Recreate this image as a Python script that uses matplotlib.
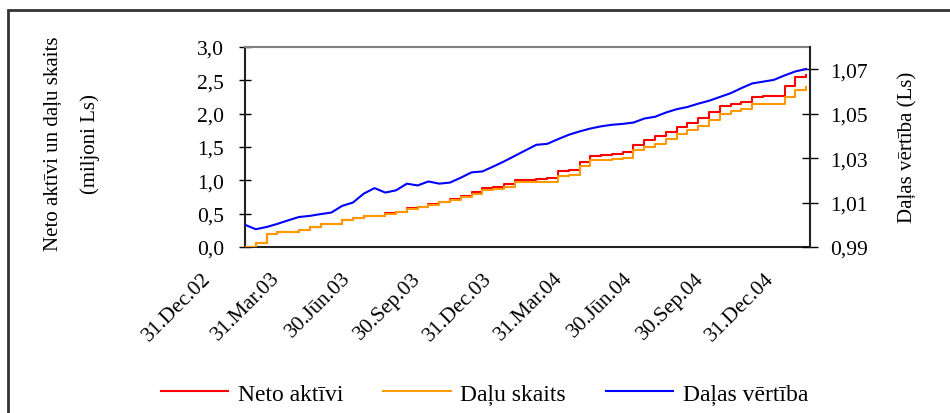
import matplotlib
matplotlib.use("Agg")
import matplotlib.pyplot as plt
import matplotlib.dates as mdates
from matplotlib.transforms import ScaledTranslation
from matplotlib.patches import Rectangle
import numpy as np
import datetime as dt

# ---- data ----
start = dt.date(2002, 12, 31)
dates = [start + dt.timedelta(days=14 * i) for i in range(53)]

neto_aktivi = [0.0, 0.06, 0.20, 0.22, 0.23, 0.26, 0.30, 0.345, 0.345, 0.40,
               0.44, 0.46, 0.47, 0.51, 0.53, 0.58, 0.60, 0.64, 0.68, 0.72,
               0.76, 0.82, 0.88, 0.90, 0.94, 1.01, 1.01, 1.02, 1.03, 1.145,
               1.15, 1.28, 1.36, 1.38, 1.40, 1.42, 1.53, 1.60, 1.66, 1.72,
               1.80, 1.86, 1.93, 2.02, 2.11, 2.15, 2.18, 2.25, 2.27, 2.27,
               2.42, 2.55, 2.58]

dalu_skaits = [0.0, 0.06, 0.20, 0.22, 0.23, 0.26, 0.30, 0.345, 0.345, 0.40,
               0.44, 0.46, 0.47, 0.50, 0.52, 0.57, 0.595, 0.63, 0.67, 0.70,
               0.745, 0.80, 0.86, 0.87, 0.90, 0.98, 0.98, 0.98, 0.98, 1.07,
               1.08, 1.22, 1.30, 1.30, 1.32, 1.34, 1.45, 1.50, 1.55, 1.62,
               1.70, 1.76, 1.82, 1.90, 2.00, 2.04, 2.07, 2.14, 2.15, 2.15,
               2.25, 2.35, 2.40]

dalas_vertiba = [1.000, 0.998, 0.999, 1.0004, 1.002, 1.0035, 1.004, 1.0048,
                 1.0055, 1.0085, 1.010, 1.014, 1.0165, 1.0145, 1.0155, 1.0185,
                 1.0177, 1.0195, 1.0185, 1.019, 1.0212, 1.0236, 1.0240, 1.0262,
                 1.0285, 1.031, 1.0335, 1.036, 1.0364, 1.0385, 1.0405, 1.042,
                 1.0433, 1.0443, 1.045, 1.0454, 1.046, 1.0478, 1.0486, 1.0505,
                 1.052, 1.053, 1.0545, 1.0558, 1.0575, 1.0592, 1.0615, 1.0636,
                 1.0644, 1.0652, 1.0672, 1.069, 1.0701]

tick_dates = [dt.date(2002, 12, 31), dt.date(2003, 3, 31), dt.date(2003, 6, 30),
              dt.date(2003, 9, 30), dt.date(2003, 12, 31), dt.date(2004, 3, 31),
              dt.date(2004, 6, 30), dt.date(2004, 9, 30), dt.date(2004, 12, 31)]
tick_labels = ["31.Dec.02", "31.Mar.03", "30.Jūn.03", "30.Sep.03", "31.Dec.03",
               "31.Mar.04", "30.Jūn.04", "30.Sep.04", "31.Dec.04"]

left_ticks = [0.0, 0.5, 1.0, 1.5, 2.0, 2.5, 3.0]
right_ticks = [0.99, 1.01, 1.03, 1.05, 1.07]

series_names = ["Neto aktīvi", "Daļu skaits", "Daļas vērtība"]

# ---- style ----
plt.rcParams['font.family'] = ['Liberation Serif', 'DejaVu Serif']
RED = "#FF0000"
ORANGE = "#FF9900"
BLUE = "#0000FF"

fig = plt.figure(figsize=(9.5, 4.14), dpi=100)
ax = fig.add_axes([245 / 950, 1 - 248 / 414, (810 - 245) / 950, 200 / 414])
ax2 = ax.twinx()

l1, = ax.plot(dates, neto_aktivi, color=RED, lw=1.5, drawstyle='steps-post', zorder=2)
l2, = ax.plot(dates, dalu_skaits, color=ORANGE, lw=1.5, drawstyle='steps-post', zorder=3)
l3, = ax2.plot(dates, dalas_vertiba, color=BLUE, lw=1.5, zorder=3)

ax.set_xlim(dt.date(2002, 12, 31), dt.date(2005, 1, 2))
ax.set_ylim(0, 3.0)
ax2.set_ylim(0.99, 1.08)

ax.set_yticks(left_ticks)
ax.set_yticklabels([f"{v:.1f}".replace('.', ',') for v in left_ticks], fontsize=15.5)
ax2.set_yticks(right_ticks)
ax2.set_yticklabels([f"{v:.2f}".replace('.', ',') for v in right_ticks], fontsize=15.5)

ax.tick_params(axis='y', direction='inout', length=8.6, width=1.0, pad=11, colors='black')
ax2.tick_params(axis='y', direction='inout', length=11.5, width=1.0, pad=8.5, colors='black')

ax.set_xticks(tick_dates)
ax.set_xticklabels([])
ax.tick_params(axis='x', length=0)

# rotated date labels, ending to the lower-left of each tick
off = ScaledTranslation(-37 / 100, -28 / 100, fig.dpi_scale_trans)
for d, lab in zip(tick_dates, tick_labels):
    ax.text(d, 0, lab, transform=ax.get_xaxis_transform() + off,
            rotation=45, rotation_mode='anchor', ha='right', va='center',
            fontsize=15.5, clip_on=False)

for s in ['top', 'right', 'left', 'bottom']:
    ax2.spines[s].set_visible(False)
ax2.spines['right'].set_visible(True)
ax2.spines['right'].set_color('#222222')
ax2.spines['right'].set_linewidth(1.5)
ax.spines['right'].set_visible(False)
ax.spines['top'].set_color('#808080')
ax.spines['top'].set_linewidth(1.5)
ax.spines['left'].set_color('#222222')
ax.spines['left'].set_linewidth(1.5)
ax.spines['bottom'].set_color('#222222')
ax.spines['bottom'].set_linewidth(1.5)

# axis titles
fig.text(0.056, 0.652, "Neto aktīvi un daļu skaits", rotation=90,
         ha='center', va='center', fontsize=15)
fig.text(0.095, 0.652, "(miljoni Ls)", rotation=90,
         ha='center', va='center', fontsize=15)
fig.text(0.956, 0.643, "Daļas vērtība (Ls)", rotation=90,
         ha='center', va='center', fontsize=15)

# legend
fig.legend([l1, l2, l3], series_names, loc='center', bbox_to_anchor=(0.51, 0.046),
           ncol=3, frameon=False, fontsize=17, handlelength=2.85,
           handletextpad=0.4, columnspacing=1.7)

# outer chart border
fig.add_artist(Rectangle((8 / 950, -0.2), 1.2, 0.2 + (1 - 11 / 414),
                         transform=fig.transFigure, fill=False,
                         edgecolor='#333333', linewidth=2.0))

fig.savefig("out.png", dpi=100)
